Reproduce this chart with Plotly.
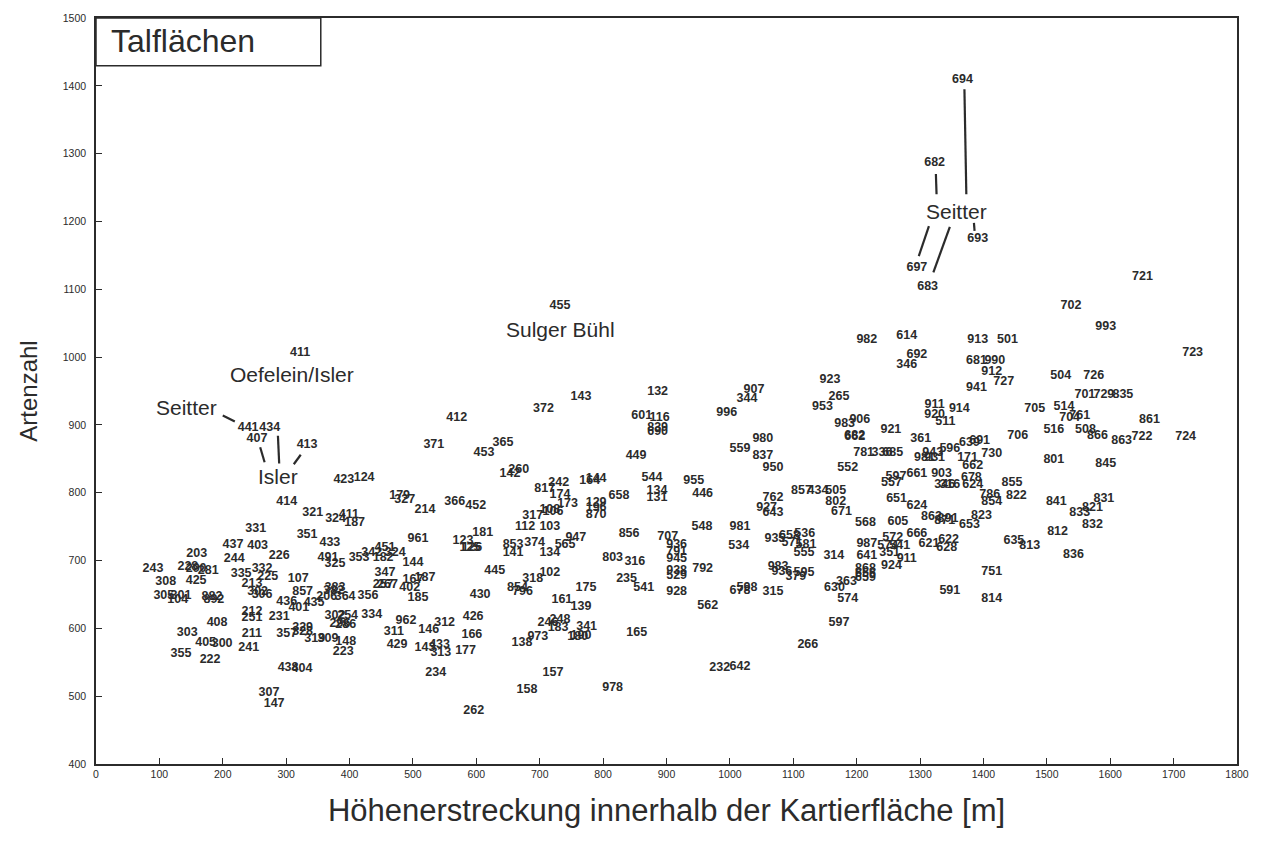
import plotly.graph_objects as go

# Aufnahmeflächen: Nummer, Höhenerstreckung [m], Artenzahl
ids = [
    "411","441","434","407","413","423","124","414","321","324","411","187","331","351","433","437","403",
    "203","244","226","491","325","353","243","228","290","281","335","332","225","213","107","308","425",
    "305","301","104","882","892","302","306","857","436","401","435","383","382","206","364","356","212",
    "251","231","408","302","254","334","296","286","303","211","357","329","328","319","309","148","223",
    "405","300","241","355","222","438","404","307","147",
    "455","143","132","372","412","601","116","839","690","371","365","453","449","142","260","544","164",
    "144","242","817","174","134","131","658","179","327","366","214","452","173","129","196","870","317",
    "108","106","112","103","181","961","123","125","126","853","141","374","565","947","134","856","803",
    "316","451","342","324","182","144","347","445","102","318","175","235","541","167","187","257","267",
    "402","185","430","854","796","161","139","426","962","312","311","146","166","248","246","183","341",
    "180","190","138","973","165","429","143","433","313","177","234","157","158","978","262",
    "982","614","692","346","923","907","344","265","953","996","983","906","682","662","921","911","920",
    "511","914","361","980","559","837","950","781","336","685","552","943","981","931","596","597","557",
    "661","903","346","316","955","446","762","927","643","857","434","505","802","671","651","624","862",
    "568","605","548","981","707","936","791","945","534","935","658","536","571","581","555","314","792",
    "938","529","983","936","595","379","928","678","598","315","562","987","641","572","574","541","351",
    "911","924","666","621","622","628","363","630","868","656","659","574","597","266","232","642","591",
    "913","501","681","990","912","727","941","723","504","726","701","729","835","705","514","704","761",
    "861","706","516","508","866","863","722","724","639","691","730","171","662","801","845","678","624",
    "855","786","822","854","841","831","821","833","832","823","653","891","871","812","635","813","836",
    "751","814",
    "694","682","693","697","683","721","702","993",
]
hoehe = [
    322,240,274,254,333,391,423,301,342,378,399,408,252,333,369,216,255,
    159,218,289,366,377,415,90,145,158,177,229,262,271,246,319,110,158,
    107,134,129,183,186,255,262,326,301,320,344,377,375,364,393,429,246,
    246,289,191,377,397,435,385,394,144,246,301,326,326,345,366,394,390,
    173,199,241,134,180,303,325,273,281,
    732,765,886,706,569,861,889,886,886,533,642,612,852,653,667,877,779,
    789,730,708,732,885,885,825,479,487,566,519,599,744,789,789,789,689,
    716,721,677,716,610,508,579,590,593,658,658,692,740,757,716,841,815,
    850,456,435,472,453,500,456,629,716,689,773,837,864,500,519,453,460,
    495,508,606,665,673,735,765,595,489,550,470,525,593,732,713,729,774,
    760,765,672,697,853,475,519,542,544,583,536,721,680,815,596,
    1216,1279,1295,1279,1158,1038,1027,1172,1146,995,1181,1205,1197,1197,1254,1323,1323,
    1340,1362,1301,1052,1016,1052,1068,1211,1240,1257,1186,1320,1307,1323,1347,1262,1255,
    1295,1334,1339,1347,943,957,1068,1058,1068,1113,1139,1167,1167,1176,1263,1295,1318,
    1214,1265,956,1016,902,916,916,916,1014,1071,1094,1118,1098,1120,1117,1164,957,
    916,916,1076,1082,1117,1104,916,1016,1027,1068,965,1216,1216,1257,1249,1268,1252,
    1279,1255,1295,1314,1345,1342,1184,1165,1214,1214,1214,1186,1172,1123,984,1016,1347,
    1391,1438,1389,1418,1413,1432,1389,1730,1522,1574,1560,1590,1620,1481,1527,1536,1552,
    1662,1454,1511,1561,1580,1618,1650,1719,1378,1394,1413,1375,1383,1511,1593,1381,1383,
    1445,1410,1452,1413,1515,1590,1572,1552,1572,1397,1378,1344,1339,1517,1448,1473,1542,
    1413,1413,
    1367,1323,1391,1295,1312,1651,1538,1593,
]
arten = [
    1006,896,896,879,870,819,822,787,771,762,768,756,746,738,726,723,722,
    710,703,707,704,695,704,687,691,687,685,681,687,676,666,673,669,670,
    648,648,642,647,642,654,650,654,639,630,638,660,656,647,647,648,625,
    616,617,608,619,619,620,607,605,593,592,592,601,595,585,585,580,565,
    579,577,571,562,554,542,540,505,489,
    1075,941,948,923,910,913,911,896,890,871,874,859,855,828,833,822,818,
    821,815,806,797,802,793,796,796,790,787,774,780,783,785,778,768,766,
    774,772,749,749,741,732,729,719,718,723,712,726,723,734,712,740,704,
    698,719,712,712,704,697,682,685,682,673,660,673,660,672,675,664,664,
    660,645,650,660,654,642,632,617,611,608,595,598,591,613,608,601,602,
    588,589,579,588,593,576,571,576,564,567,534,534,509,512,478,
    1025,1031,1003,989,967,951,938,942,927,918,902,907,884,882,892,929,915,
    904,924,880,879,864,855,836,859,859,859,836,859,852,851,864,824,815,
    828,828,812,811,817,799,793,778,771,802,802,802,786,772,791,780,765,
    756,757,749,749,735,723,713,703,721,732,737,740,726,723,712,707,687,
    685,678,691,684,682,676,654,655,660,654,633,725,707,734,722,722,712,
    703,692,740,725,731,718,669,660,688,681,675,644,608,576,542,543,656,
    1025,1025,994,994,978,964,954,1006,972,972,944,944,945,924,927,910,914,
    907,884,892,893,884,876,883,883,874,876,858,852,840,849,843,822,811,
    814,797,796,787,786,791,778,771,753,766,753,762,759,743,729,721,709,
    684,644,
    1409,1286,1174,1131,1103,1118,1075,1045,
]

# Beschriftete Gebiete
gebiete = ["Oefelein/Isler", "Seitter", "Isler", "Sulger Bühl", "Seitter"]
gebiet_x = [309, 143, 287, 732, 1358]
gebiet_y = [975, 926, 824, 1041, 1215]

# Verbindungsstriche zwischen Gebietsnamen und Flächennummern (x0, y0, x1, y1)
striche = [
    (200, 914, 219, 905),
    (259, 867, 266, 845),
    (287, 884, 289, 843),
    (323, 856, 312, 842),
    (1370, 1395, 1373, 1240),
    (1325, 1270, 1326, 1240),
    (1314, 1193, 1298, 1149),
    (1347, 1192, 1321, 1125),
    (1385, 1198, 1386, 1186),
]

ink = "#2b2b2b"
sans = "Liberation Sans, Arial, sans-serif"

fig = go.Figure()
fig.add_trace(go.Scatter(
    x=hoehe, y=arten, text=ids, mode="text",
    textposition="middle center",
    textfont=dict(family=sans, size=12.5, color=ink, weight="bold"),
    hoverinfo="skip", showlegend=False,
))

for name, gx, gy in zip(gebiete, gebiet_x, gebiet_y):
    fig.add_annotation(x=gx, y=gy, text=name, showarrow=False,
                       font=dict(family=sans, size=21, color=ink),
                       xanchor="center", yanchor="middle")

for x0, y0, x1, y1 in striche:
    fig.add_shape(type="line", x0=x0, y0=y0, x1=x1, y1=y1, xref="x", yref="y",
                  line=dict(color=ink, width=2.2))

# Titelkasten oben links
fig.add_shape(type="rect", xref="paper", yref="paper", x0=0, x1=0.197, y0=0.936, y1=1,
              line=dict(color=ink, width=1.5), fillcolor="white")
fig.add_annotation(xref="paper", yref="paper", x=0.011, y=0.969, text="Talflächen",
                   showarrow=False, xanchor="left", yanchor="middle",
                   font=dict(family=sans, size=32, color=ink))

fig.update_xaxes(
    range=[0, 1800], tickvals=list(range(0, 1801, 100)),
    ticks="inside", ticklen=6, tickcolor=ink, tickwidth=1,
    showline=True, linecolor=ink, linewidth=1.5, mirror=True,
    showgrid=False, zeroline=False,
    tickfont=dict(family=sans, size=10.5, color=ink),
    title=dict(text="Höhenerstreckung innerhalb der Kartierfläche [m]",
               font=dict(family=sans, size=31, color=ink), standoff=20),
)
fig.update_yaxes(
    range=[400, 1500], tickvals=list(range(400, 1501, 100)),
    ticks="inside", ticklen=6, tickcolor=ink, tickwidth=1,
    showline=True, linecolor=ink, linewidth=1.5, mirror=True,
    showgrid=False, zeroline=False,
    tickfont=dict(family=sans, size=10.5, color=ink),
    ticklabelstandoff=6,
    title=dict(text="Artenzahl", font=dict(family=sans, size=24, color=ink), standoff=18),
)
fig.update_layout(
    width=1263, height=842,
    margin=dict(l=96, r=26, t=18, b=78),
    plot_bgcolor="white", paper_bgcolor="white",
)

fig.write_html("out.html")
